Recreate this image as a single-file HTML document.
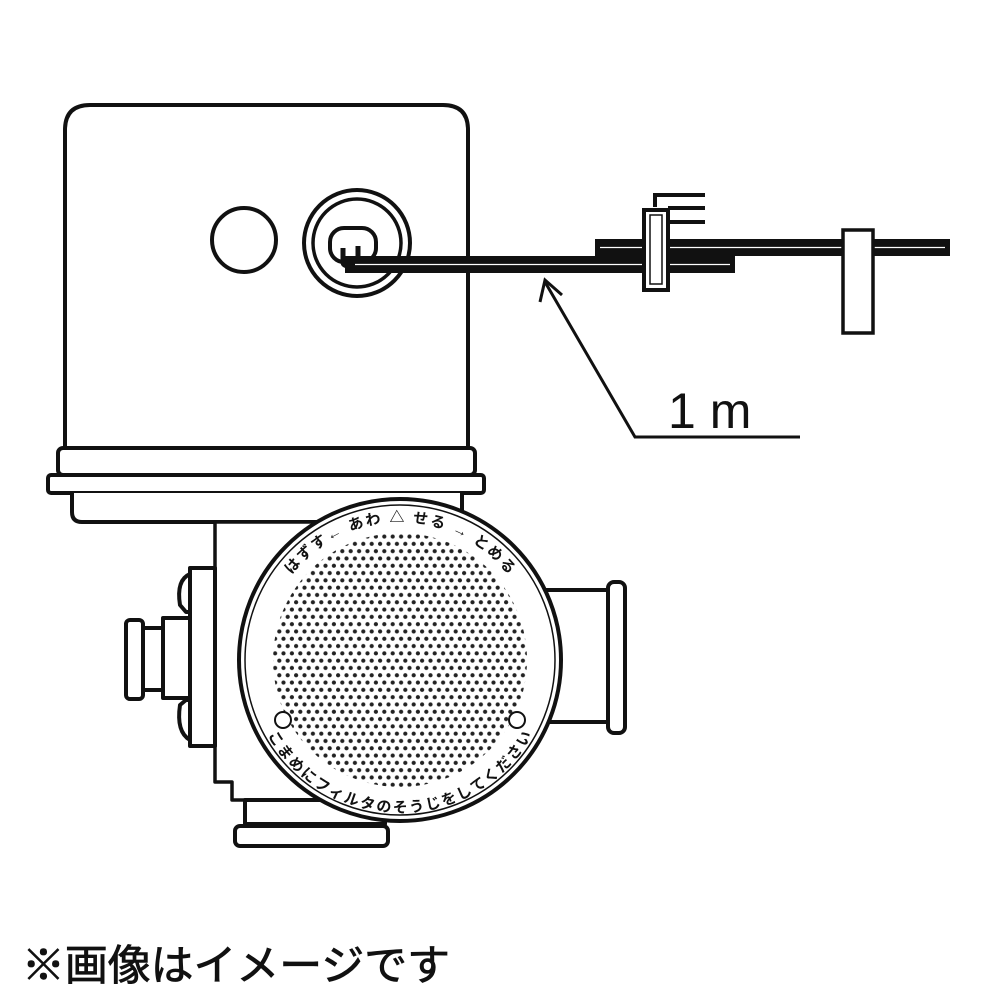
<!DOCTYPE html>
<html><head><meta charset="utf-8"><style>
html,body{margin:0;padding:0;background:#fff;}
svg{display:block;}
</style></head><body>
<svg width="1000" height="1000" viewBox="0 0 1000 1000" xmlns="http://www.w3.org/2000/svg">
<defs>
<pattern id="dots" x="0" y="0" width="8.4" height="14.6" patternUnits="userSpaceOnUse">
<circle cx="2.1" cy="3.65" r="2.1" fill="#222"/>
<circle cx="6.3" cy="10.95" r="2.1" fill="#222"/>
</pattern>
<path id="topArc" d="M 262 660 A 138 138 0 0 1 538 660"/>
<path id="botArc" d="M 262 690 A 141 141 0 0 0 538 690"/>
</defs>
<g fill="#fff" stroke="#111" stroke-width="4" stroke-linejoin="round">
<path d="M65 448 V130 Q65 105 90 105 H443 Q468 105 468 130 V448 Z"/>
<rect x="58" y="448" width="417" height="27" rx="5"/>
<rect x="48" y="475" width="436" height="18" rx="3"/>
<path d="M72 493 V512 Q72 522 82 522 H462 V493"/>
<!-- body -->
<path d="M215 522 V782 H232 V800 H400 V522 Z" stroke-width="3.5"/>
<rect x="245" y="800" width="140" height="24" />
<rect x="235" y="826" width="153" height="20" rx="5"/>
<!-- left fitting -->
<rect x="190" y="568" width="25" height="178"/>
<path d="M190 574 Q176 580 180 605 L186 612 H190 Z"/>
<path d="M190 740 Q176 732 180 705 L186 700 H190 Z"/>
<rect x="163" y="618" width="27" height="80"/>
<rect x="143" y="628" width="20" height="62"/>
<rect x="126" y="620" width="17" height="79" rx="4"/>
<!-- right fitting -->
<rect x="540" y="590" width="70" height="132"/>
<rect x="608" y="582" width="17" height="151" rx="6"/>
<circle cx="400" cy="660" r="161"/>
<circle cx="400" cy="660" r="155" stroke-width="1.5"/>
</g>
<circle cx="400" cy="660" r="127" fill="url(#dots)"/>
<circle cx="283" cy="720" r="8" fill="#fff" stroke="#111" stroke-width="2"/>
<circle cx="517" cy="720" r="8" fill="#fff" stroke="#111" stroke-width="2"/>
<g font-family="'Liberation Sans','Noto Sans CJK JP',sans-serif" font-weight="bold" font-size="15" fill="#111">
<text><textPath href="#topArc" startOffset="50%" text-anchor="middle" textLength="250" lengthAdjust="spacing">はずす←  あわ △ せる  →  とめる</textPath></text>
<text><textPath href="#botArc" startOffset="50%" text-anchor="middle" dominant-baseline="hanging" textLength="300" lengthAdjust="spacing">こまめにフィルタのそうじをしてください</textPath></text>
</g>
<circle cx="244" cy="240" r="32" fill="#fff" stroke="#111" stroke-width="4"/>
<circle cx="357" cy="243" r="53" fill="#fff" stroke="#111" stroke-width="4"/>
<circle cx="357" cy="243" r="44" fill="#fff" stroke="#111" stroke-width="3.5"/>
<rect x="330" y="228" width="46" height="34" rx="14" fill="#fff" stroke="#111" stroke-width="4"/>
<rect x="595" y="239" width="355" height="17" fill="#111"/>
<line x1="600" y1="247.5" x2="945" y2="247.5" stroke="#fff" stroke-width="1.2"/>
<path d="M343 248 V262 Q343 266 350 266" fill="none" stroke="#111" stroke-width="5"/>
<path d="M358 246 V262" fill="none" stroke="#111" stroke-width="5"/>
<rect x="345" y="256" width="390" height="17" fill="#111"/>
<line x1="355" y1="264.5" x2="730" y2="264.5" stroke="#fff" stroke-width="1.2"/>
<path d="M644 210 H668 V290 H644 Z" fill="#fff" stroke="#111" stroke-width="4"/>
<path d="M650 215 H662 V284 H650 Z" fill="#fff" stroke="#111" stroke-width="1.5"/>
<path d="M655 207 V195 H705 M668 208 H705 M668 222 H705" fill="none" stroke="#111" stroke-width="4"/>
<rect x="843" y="230" width="30" height="103" fill="#fff" stroke="#111" stroke-width="3.5"/>
<path d="M545 282 L635 437 H800" fill="none" stroke="#111" stroke-width="3"/>
<path d="M540 302 L545 280 L562 295" fill="none" stroke="#111" stroke-width="3"/>
<text x="668" y="428" font-family="'Liberation Sans',sans-serif" font-size="50" fill="#111">1 m</text>
<text x="22" y="980" font-family="'Liberation Sans','Noto Sans CJK JP',sans-serif" font-size="42" fill="#111" stroke="#111" stroke-width="0.8" textLength="428" lengthAdjust="spacingAndGlyphs">※画像はイメージです</text>
</svg>
</body></html>
